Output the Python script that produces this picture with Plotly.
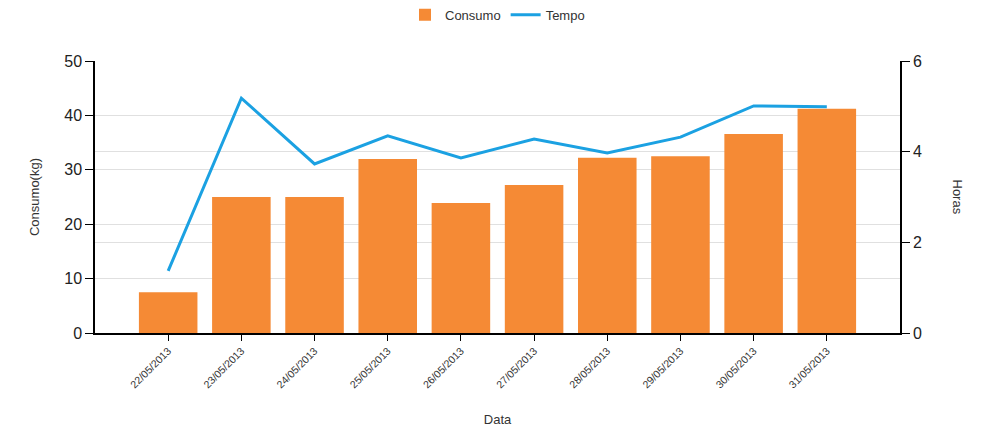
import plotly.graph_objects as go

datas = ["22/05/2013", "23/05/2013", "24/05/2013", "25/05/2013", "26/05/2013",
         "27/05/2013", "28/05/2013", "29/05/2013", "30/05/2013", "31/05/2013"]
consumo = [7.5, 25.0, 25.0, 32.0, 23.9, 27.2, 32.2, 32.5, 36.6, 41.2]
tempo = [1.37, 5.18, 3.73, 4.35, 3.86, 4.28, 3.97, 4.32, 5.01, 4.99]

FONT = "Liberation Sans, Arial, sans-serif"

fig = go.Figure()
fig.add_trace(go.Bar(x=datas, y=consumo, name="Consumo", marker_color="#F58A35",
                     marker_line_width=0, width=0.8))
fig.add_trace(go.Scatter(x=datas, y=tempo, name="Tempo", mode="lines",
                         line=dict(color="#1BA1E2", width=3), yaxis="y2"))

fig.update_layout(
    width=998, height=442,
    margin=dict(l=87, r=106, t=53, b=117, autoexpand=False),
    paper_bgcolor="white", plot_bgcolor="white",
    font=dict(family=FONT, color="#222"),
    showlegend=True,
    legend=dict(orientation="h", x=0.5, xanchor="center", y=1.17, yanchor="middle",
                yref="paper", font=dict(size=13, color="#333")),
    xaxis=dict(type="category", range=[-1, 10], showline=True, linecolor="black",
               linewidth=1.5, ticks="outside", ticklen=6, tickcolor="black",
               tickangle=-45, tickfont=dict(size=10.5, color="#333"), automargin=False,
               showgrid=False, zeroline=False,
               title=dict(text="Data", font=dict(size=13, color="#333"), standoff=26)),
    yaxis=dict(range=[0, 50], dtick=10, showline=True, linecolor="black", linewidth=1.5,
               ticks="outside", ticklen=8, tickcolor="black", automargin=False,
               tickfont=dict(size=16, color="#222"),
               showgrid=True, gridcolor="#e0e0e0", zeroline=False,
               title=dict(text="Consumo(kg)", font=dict(size=13, color="#333"), standoff=22)),
    yaxis2=dict(range=[0, 6], dtick=2, overlaying="y", side="right", showline=True,
                linecolor="black", linewidth=1.5, ticks="outside", ticklen=8,
                tickcolor="black", tickfont=dict(size=16, color="#222"), automargin=False,
                showgrid=True, gridcolor="#e0e0e0", zeroline=False),
    bargap=0.2,
    annotations=[dict(text="Horas", xref="paper", yref="paper", x=1.0, y=0.5,
                      xshift=67, showarrow=False, textangle=90,
                      font=dict(size=13, color="#333"))],
)

fig.write_html("out.html")
